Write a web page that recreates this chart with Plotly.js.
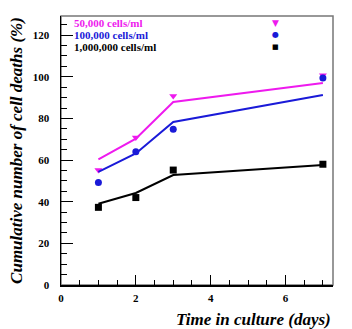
<!DOCTYPE html>
<html><head><meta charset="utf-8">
<script src="https://cdn.plot.ly/plotly-3.0.1.min.js"></script>
<style>html,body{margin:0;padding:0;background:#fff}#c{width:352px;height:329px}</style>
</head><body><div id="c"></div>
<script>
const days = [1, 2, 3, 7];
const seriesNames = ["50,000 cells/ml", "100,000 cells/ml", "1,000,000 cells/ml"];
const pts50k = [55.2, 70.8, 90.8, 100.7];
const fit50k = [60.3, 70.3, 87.9, 97.0];
const pts100k = [49.2, 64.0, 74.8, 99.4];
const fit100k = [54.3, 63.2, 78.3, 91.3];
const pts1m = [37.3, 42.0, 55.2, 58.0];
const fit1m = [39.0, 44.2, 52.8, 57.6];
const xTicks = [0, 2, 4, 6];
const yTicks = [0, 20, 40, 60, 80, 100, 120];

const colors = ["#ee1aee", "#1a1ad8", "#000000"];
const symbols = ["triangle-down", "circle", "square"];
const sizes = [7, 7, 7];
const pts = [pts50k, pts100k, pts1m];
const fits = [fit50k, fit100k, fit1m];

const traces = [];
for (let i = 0; i < 3; i++) {
  traces.push({x: days, y: fits[i], mode: "lines", line: {color: colors[i], width: 2}, showlegend: false, hoverinfo: "skip"});
  traces.push({x: days, y: pts[i], mode: "markers", name: seriesNames[i], marker: {color: colors[i], symbol: symbols[i], size: sizes[i]}, showlegend: false});
}

const serif = "Liberation Serif, Times New Roman, serif";
const annotations = [];
const legY = [0.974, 0.93, 0.886];
const legGlyph = ["▼", "●", "■"];
const legSize = [9, 8, 7];
for (let i = 0; i < 3; i++) {
  annotations.push({xref: "paper", yref: "paper", x: 0.04, y: legY[i], xanchor: "left", yanchor: "middle", showarrow: false,
    text: "<b>" + seriesNames[i] + "</b>", font: {family: serif, size: 11, color: colors[i]}});
  annotations.push({xref: "paper", yref: "paper", x: 0.787, y: legY[i], xanchor: "center", yanchor: "middle", showarrow: false,
    text: legGlyph[i], font: {family: "DejaVu Sans", size: legSize[i], color: colors[i]}});
}
annotations.push({xref: "paper", yref: "paper", x: 1.0, y: -0.085, xanchor: "right", yanchor: "top", showarrow: false,
  text: "<b><i>Time in culture (days)</i></b>", font: {family: serif, size: 17, color: "#000"}});

const layout = {
  width: 352, height: 329,
  margin: {l: 61, r: 19, t: 16, b: 44},
  paper_bgcolor: "#fff", plot_bgcolor: "#fff",
  showlegend: false,
  xaxis: {range: [0, 7.27], tickvals: xTicks, ticktext: xTicks.map(String), ticks: "inside", ticklen: 10, tickwidth: 1, tickcolor: "#000",
    minor: {dtick: 0.5, ticks: "inside", ticklen: 5, tickcolor: "#000", showgrid: false},
    showline: true, linecolor: "#000", linewidth: 1.5, showgrid: false, zeroline: false,
    ticklabelstandoff: 2, tickfont: {family: serif, size: 11, color: "#000", weight: "bold"}},
  yaxis: {range: [0, 129.2], tickvals: yTicks, ticktext: yTicks.map(String), ticks: "inside", ticklen: 12, tickwidth: 1, tickcolor: "#000",
    minor: {dtick: 5, ticks: "inside", ticklen: 6, tickcolor: "#000", showgrid: false},
    showline: true, linecolor: "#000", linewidth: 1.5, showgrid: false, zeroline: false,
    ticklabelstandoff: 8, tickfont: {family: serif, size: 11, color: "#000", weight: "bold"},
    title: {text: "<b><i>Cumulative number of cell deaths (%)</i></b>", font: {family: serif, size: 17, color: "#000"}, standoff: 6}},
  shapes: [{type: "rect", xref: "paper", yref: "paper", x0: 0, y0: 0, x1: 1, y1: 1, line: {color: "#777", width: 1.5}, layer: "below"}],
  annotations: annotations
};
Plotly.newPlot("c", traces, layout, {staticPlot: true, displayModeBar: false});
</script></body></html>
